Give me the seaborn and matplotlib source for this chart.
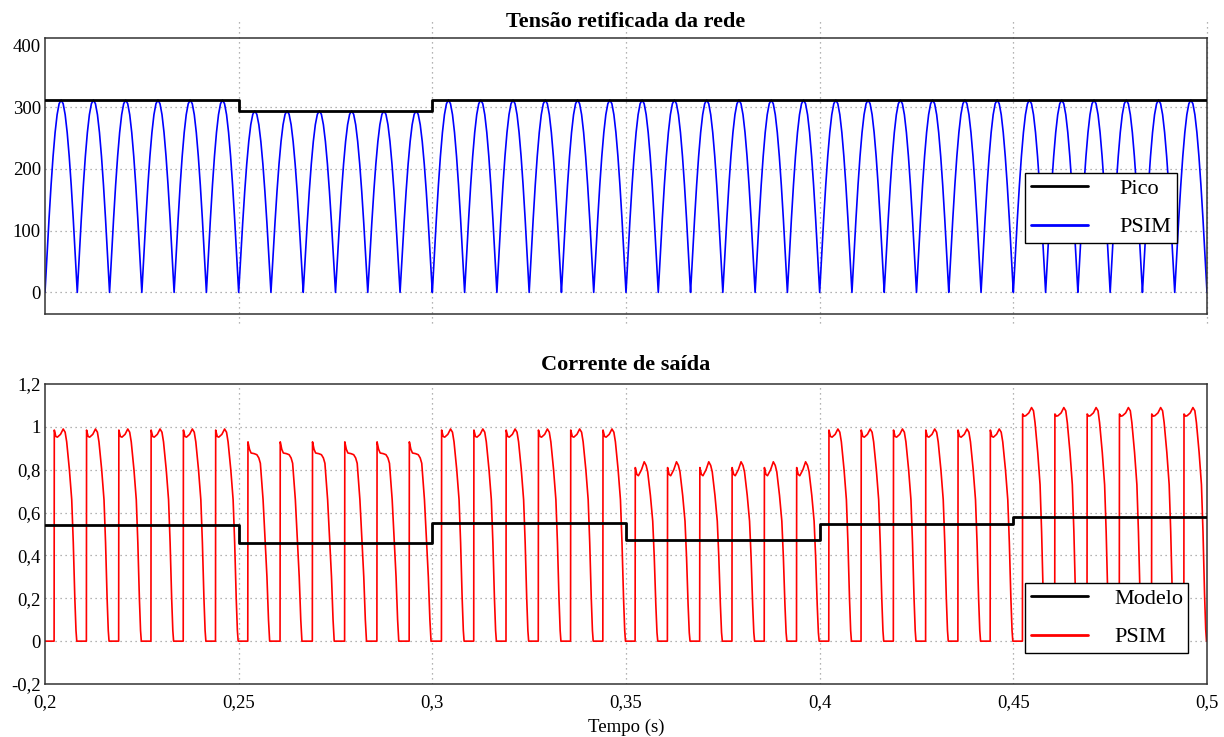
import numpy as np
import pandas as pd
import matplotlib
matplotlib.use("Agg")
import matplotlib.pyplot as plt
import seaborn as sns

# ---------------- data ----------------
segment_edges = [0.2, 0.25, 0.3, 0.35, 0.4, 0.45, 0.5]
peak_voltage = [311.5, 294.0, 311.5, 311.5, 311.5, 311.5]          # "Pico" (V)
model_current = [0.544, 0.459, 0.551, 0.473, 0.547, 0.578]         # "Modelo" (A)

half_period = 1.0 / 120.0          # rectified 60 Hz
pulses_per_segment = 6

# normalised shape of one rectified-voltage hump (equally spaced in the half period)
hump_shape = [0.0, 0.195, 0.383, 0.556, 0.707, 0.831, 0.924, 0.981, 1.0,
              0.981, 0.924, 0.831, 0.707, 0.556, 0.383, 0.195, 0.0]

# current pulse anchor points (ms after each voltage zero) and values per segment
pulse_phase_ms = [0.0, 2.35, 2.40, 2.8, 3.2, 4.0, 4.7, 5.2, 5.6, 6.3, 6.9, 7.3, 7.7, 8.0, 8.2]
pulse_seg1 = [0, 0, 0.985, 0.955, 0.952, 0.965, 0.990, 0.975, 0.930, 0.800, 0.660, 0.460, 0.200, 0.050, 0]
pulse_seg2 = [0, 0, 0.930, 0.895, 0.878, 0.875, 0.870, 0.855, 0.830, 0.660, 0.450, 0.300, 0.100, 0.000, 0]
pulse_seg3 = [0, 0, 0.985, 0.955, 0.952, 0.965, 0.990, 0.975, 0.930, 0.800, 0.660, 0.460, 0.200, 0.050, 0]
pulse_seg4 = [0, 0, 0.810, 0.778, 0.772, 0.800, 0.837, 0.820, 0.790, 0.680, 0.560, 0.390, 0.170, 0.040, 0]
pulse_seg5 = [0, 0, 0.985, 0.955, 0.952, 0.965, 0.990, 0.975, 0.930, 0.800, 0.660, 0.460, 0.200, 0.050, 0]
pulse_seg6 = [0, 0, 1.060, 1.050, 1.052, 1.065, 1.090, 1.075, 1.020, 0.880, 0.730, 0.510, 0.220, 0.055, 0]
pulse_values = [pulse_seg1, pulse_seg2, pulse_seg3, pulse_seg4, pulse_seg5, pulse_seg6]

x_ticks = [0.2, 0.25, 0.3, 0.35, 0.4, 0.45, 0.5]
x_tick_labels = ["0,2", "0,25", "0,3", "0,35", "0,4", "0,45", "0,5"]
v_ticks = [0, 100, 200, 300, 400]
i_ticks = [-0.2, 0, 0.2, 0.4, 0.6, 0.8, 1.0, 1.2]
i_tick_labels = ["-0,2", "0", "0,2", "0,4", "0,6", "0,8", "1", "1,2"]

# ---------------- build series ----------------
n_seg = len(peak_voltage)
vt, vv, ct, cv = [], [], [], []
for s in range(n_seg):
    for p in range(pulses_per_segment):
        base = segment_edges[s] + p * half_period
        for j, h in enumerate(hump_shape):
            vt.append(base + j * half_period / (len(hump_shape) - 1))
            vv.append(h * peak_voltage[s])
        for ph, val in zip(pulse_phase_ms, pulse_values[s]):
            ct.append(base + ph / 1000.0)
            cv.append(val)

volt_df = pd.DataFrame({"t": vt, "v": vv})
curr_df = pd.DataFrame({"t": ct, "i": cv})
pico_df = pd.DataFrame({"t": segment_edges, "v": peak_voltage + [peak_voltage[-1]]})
model_df = pd.DataFrame({"t": segment_edges, "i": model_current + [model_current[-1]]})

# ---------------- plot ----------------
sns.set_theme(style="white")
plt.rcParams["font.family"] = ["Liberation Serif", "DejaVu Serif"]
plt.rcParams["text.color"] = "black"
plt.rcParams["axes.labelcolor"] = "black"
plt.rcParams["xtick.color"] = "black"
plt.rcParams["ytick.color"] = "black"

W, H = 1224, 737
fig = plt.figure(figsize=(W / 100, H / 100), dpi=100)

def box(l, t, r, b):
    return [l / W, 1 - b / H, (r - l) / W, (b - t) / H]

ax1 = fig.add_axes(box(45, 38, 1207, 314))
ax2 = fig.add_axes(box(45, 384, 1207, 684))

grid_kw = dict(color="#9a9a9a", linestyle=(0, (1, 3)), linewidth=0.9)

# top panel
sns.lineplot(data=pico_df, x="t", y="v", ax=ax1, color="black", lw=2.0,
             drawstyle="steps-post", estimator=None, sort=False, label="Pico", zorder=3)
sns.lineplot(data=volt_df, x="t", y="v", ax=ax1, color="#0000ff", lw=1.2,
             estimator=None, sort=False, label="PSIM", zorder=2)
ax1.set_xlim(0.2, 0.5)
ax1.set_ylim(-35, 412)
ax1.set_xticks(x_ticks)
ax1.set_xticklabels([])
ax1.set_yticks(v_ticks)
ax1.set_yticklabels([str(v) for v in v_ticks])
for yv in v_ticks[:-1]:
    ax1.axhline(yv, zorder=0, **grid_kw)
for xv in x_ticks[1:]:
    ax1.plot([xv, xv], [-0.033, 1.065], transform=ax1.get_xaxis_transform(),
             clip_on=False, zorder=0, **grid_kw)
ax1.set_title("Tensão retificada da rede", fontsize=16, fontweight="bold", pad=8,
              color="black")
ax1.set_xlabel("")

# bottom panel
sns.lineplot(data=model_df, x="t", y="i", ax=ax2, color="black", lw=2.0,
             drawstyle="steps-post", estimator=None, sort=False, label="Modelo", zorder=3)
sns.lineplot(data=curr_df, x="t", y="i", ax=ax2, color="#ff0000", lw=1.2,
             estimator=None, sort=False, label="PSIM", zorder=2)
ax2.set_xlim(0.2, 0.5)
ax2.set_ylim(-0.2, 1.2)
ax2.set_xticks(x_ticks)
ax2.set_xticklabels(x_tick_labels)
ax2.set_yticks(i_ticks)
ax2.set_yticklabels(i_tick_labels)
for yv in i_ticks[1:-1]:
    ax2.axhline(yv, zorder=0, **grid_kw)
for xv in x_ticks[1:-1]:
    ax2.axvline(xv, zorder=0, **grid_kw)
ax2.set_title("Corrente de saída", fontsize=16, fontweight="bold", pad=10,
              color="black")
ax2.set_xlabel("Tempo (s)", fontsize=13.5, labelpad=6)

for ax in (ax1, ax2):
    ax.set_ylabel("")
    for sp in ax.spines.values():
        sp.set_color("#333333")
        sp.set_linewidth(1.1)
    ax.tick_params(axis="both", length=0, labelsize=13.5, colors="black")
    ax.tick_params(axis="y", pad=3)
    ax.tick_params(axis="x", pad=7)

leg_kw = dict(loc="upper left", frameon=True, fancybox=False, fontsize=16,
              handlelength=2.6, handletextpad=1.15, labelspacing=0.8,
              borderpad=0.25, borderaxespad=0)
l1 = ax1.legend(bbox_to_anchor=((1025 - 45) / 1162, 1 - (173 - 38) / 276),
                **{**leg_kw, "handletextpad": 1.4})
l2 = ax2.legend(bbox_to_anchor=((1025 - 45) / 1162, 1 - (583 - 384) / 300), **leg_kw)
for lg in (l1, l2):
    fr = lg.get_frame()
    fr.set_edgecolor("black")
    fr.set_linewidth(1.0)
    fr.set_alpha(1)
    for line in lg.get_lines():
        line.set_linewidth(2.0)
    for txt in lg.get_texts():
        txt.set_color("black")

fig.savefig("out.png", dpi=100)
